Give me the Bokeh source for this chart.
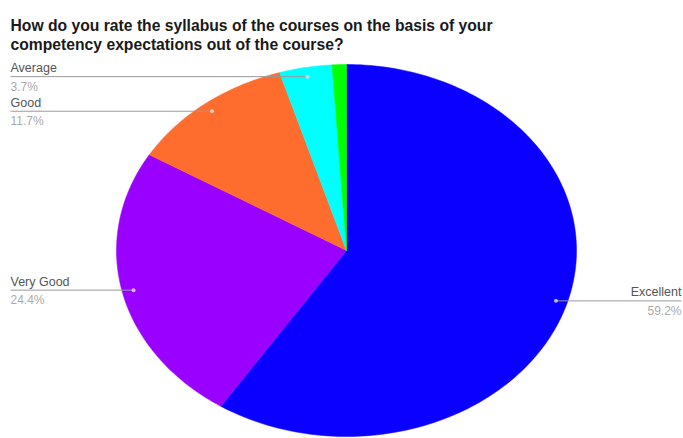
import math
from bokeh.plotting import figure
from bokeh.models import Range1d
from bokeh.core.properties import value
from bokeh.embed import file_html
from bokeh.resources import INLINE

# ---- data ----
categories = ["Excellent", "Very Good", "Good", "Average", "Poor"]
percents = [59.2, 24.4, 11.7, 3.7, 1.0]
colors = ["#0a00ff", "#9900ff", "#ff6d2e", "#00ffff", "#00ff00"]
show_label = [True, True, True, True, False]
title_lines = ["How do you rate the syllabus of the courses on the basis of your",
               "competency expectations out of the course?"]

W, H = 683, 438
CX, CY = 346, 250
RX, RY = 230, 186

p = figure(width=W, height=H, output_backend="svg", toolbar_location=None,
           x_range=Range1d(0, W), y_range=Range1d(H, 0), min_border=0)
p.axis.visible = False
p.grid.visible = False
p.outline_line_color = None
p.background_fill_color = "white"

total = sum(percents)
start = 0.0
xs_all, ys_all = [], []
mids = []
for pct in percents:
    a0 = start / total * 2 * math.pi
    a1 = (start + pct) / total * 2 * math.pi
    n = max(4, int(pct * 3))
    xs = [CX]
    ys = [CY]
    for i in range(n + 1):
        t = a0 + (a1 - a0) * i / n
        xs.append(CX + RX * math.sin(t))
        ys.append(CY - RY * math.cos(t))
    xs_all.append(xs)
    ys_all.append(ys)
    mids.append((a0 + a1) / 2)
    start += pct

p.patches(xs_all, ys_all, fill_color=colors, line_color=colors, line_width=0.5)

# labels with leader lines
for cat, pct, mid, show in zip(categories, percents, mids, show_label):
    if not show:
        continue
    dx = CX + 0.95 * RX * math.sin(mid)
    dy = CY - 0.95 * RY * math.cos(mid)
    right = math.sin(mid) > 0
    x_end = 681 if right else 10
    p.line([dx, x_end], [dy, dy], line_color="#9a9a9a", line_width=1)
    p.scatter([dx], [dy], size=4, fill_color="#dddddd", line_color=None, alpha=0.8)
    align = "right" if right else "left"
    p.text([x_end], [dy - 1.5], text=[cat], text_font=value("Liberation Sans"),
           text_font_size="12.5px", text_color="#555555", text_align=align,
           text_baseline="bottom")
    p.text([x_end], [dy + 3], text=[f"{pct:.1f}%"], text_font=value("Liberation Sans"),
           text_font_size="12px", text_color="#aaaaaa", text_align=align,
           text_baseline="top")

# title
for i, line in enumerate(title_lines):
    p.text([10], [25 + i * 19], text=[line], text_font=value("Liberation Sans"),
           text_font_size="15.7px", text_font_style="bold", text_color="#1a1a1a",
           text_align="left", text_baseline="alphabetic")

open("out.html", "w").write(file_html(p, INLINE))
